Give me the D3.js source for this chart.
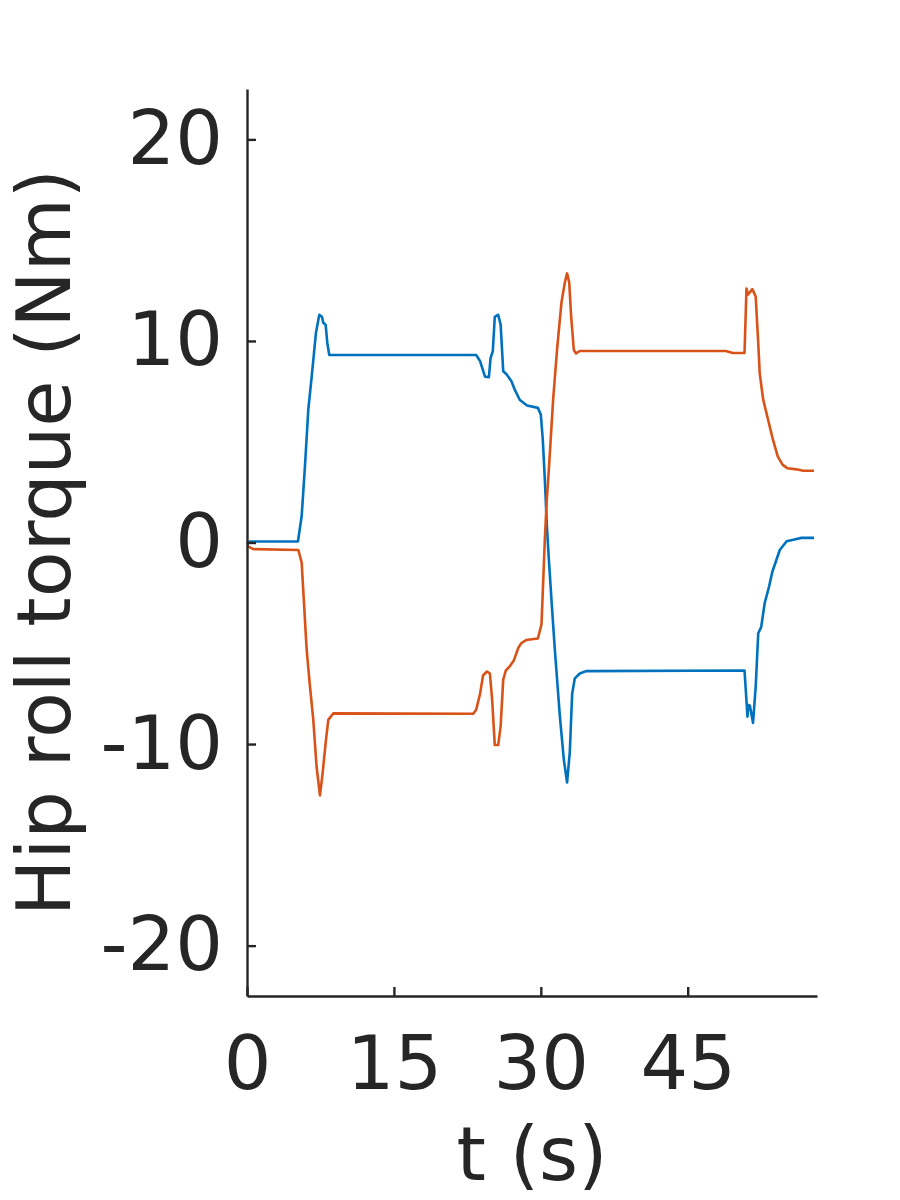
<!DOCTYPE html>
<html>
<head>
<meta charset="utf-8">
<script src="https://cdn.jsdelivr.net/npm/d3@7"></script>
<style>
  html, body { margin: 0; padding: 0; background: #fff; }
  svg { display: block; }
  text { font-family: "DejaVu Sans", sans-serif; fill: #262626; }
</style>
</head>
<body>
<svg id="chart" width="900" height="1200"></svg>
<script>
// ---- data ----
const xTicks = [0, 15, 30, 45];
const yTicks = [-20, -10, 0, 10, 20];
const xLabel = "t (s)";
const yLabel = "Hip roll torque (Nm)";

const tBlue = [0, 0.3, 5.2, 5.58, 5.92, 6.26, 6.6, 7.04, 7.38, 7.65, 7.79, 8.03, 8.2, 8.4,
  23.4, 23.8, 24.3, 24.7, 24.87, 25.1, 25.3, 25.65, 25.9, 26.16, 26.5, 27.0, 27.35, 27.86, 28.6, 29.7,
  30.0, 30.2, 30.41, 30.61, 30.82, 31.12, 31.43, 31.94, 32.35, 32.68, 32.96, 33.2, 33.47, 33.98, 34.66,
  50.8, 51.1, 51.2, 51.35, 51.67, 51.94, 52.2, 52.5, 52.86, 53.3, 53.64, 54.05, 54.4, 55.1, 55.9, 56.6, 57.9];
const vBlue = [-0.1, 0.05, 0.05, 1.3, 3.8, 6.6, 8.2, 10.4, 11.3, 11.2, 10.9, 10.8, 9.9, 9.3,
  9.3, 9.0, 8.23, 8.2, 9.15, 9.5, 11.2, 11.3, 10.8, 8.5, 8.35, 8.0, 7.57, 7.07, 6.8, 6.68,
  6.35, 5.11, 3.13, 0.9, -0.84, -3.08, -5.31, -8.59, -10.77, -11.91, -10.4, -7.5, -6.74, -6.5, -6.38,
  -6.35, -8.64, -8.06, -8.1, -8.95, -7.15, -4.5, -4.2, -3.0, -2.2, -1.45, -0.87, -0.37, 0.06, 0.15, 0.23, 0.23];

const tOrange = [0, 0.65, 5.24, 5.58, 5.8, 6.09, 6.43, 6.77, 7.1, 7.45, 7.72, 8.06, 8.3, 8.8,
  23.1, 23.4, 23.8, 24.1, 24.5, 24.8, 25.03, 25.3, 25.65, 25.9, 26.16, 26.43, 26.8, 27.24, 27.7, 28.0, 28.5, 29.7,
  30.07, 30.23, 30.41, 30.61, 30.82, 31.26, 31.66, 32.11, 32.45, 32.68, 32.9, 33.1, 33.37, 33.6, 33.98,
  48.9, 49.6, 50.8, 51.0, 51.15, 51.6, 51.94, 52.2, 52.35, 52.7, 53.2, 53.7, 54.2, 54.7, 55.2, 56.1, 56.8, 57.9];
const vOrange = [-0.17, -0.33, -0.37, -1.0, -2.85, -5.3, -7.15, -8.8, -11.1, -12.55, -11.45, -9.8, -8.8, -8.48,
  -8.5, -8.3, -7.5, -6.6, -6.4, -6.5, -7.8, -10.05, -10.05, -9.1, -6.8, -6.35, -6.16, -5.86, -5.23, -5.0, -4.84, -4.76,
  -4.07, -2.08, 0.15, 2.13, 3.62, 7.1, 9.58, 11.91, 12.9, 13.35, 12.9, 11.2, 9.55, 9.38, 9.5,
  9.5, 9.4, 9.4, 12.6, 12.3, 12.57, 12.2, 9.9, 8.4, 7.1, 6.1, 5.1, 4.26, 3.85, 3.68, 3.63, 3.56, 3.56];

const xDomain = [0, 58.2];
const yDomain = [-22.5, 22.5];

// ---- layout ----
const mLeft = 247, mRight = 817, mTop = 89, mBottom = 996;
const svg = d3.select("#chart");

const x = d3.scaleLinear().domain(xDomain).range([mLeft, mRight]);
const y = d3.scaleLinear().domain(yDomain).range([mBottom, mTop]);

const line = d3.line().x(d => x(d[0])).y(d => y(d[1]));

svg.append("path")
  .datum(tBlue.map((t, i) => [t, vBlue[i]]))
  .attr("d", line).attr("fill", "none")
  .attr("stroke", "#0072BD").attr("stroke-width", 2.6).attr("stroke-linejoin", "round");

svg.append("path")
  .datum(tOrange.map((t, i) => [t, vOrange[i]]))
  .attr("d", line).attr("fill", "none")
  .attr("stroke", "#D95319").attr("stroke-width", 2.6).attr("stroke-linejoin", "round");

// axes
const xAxis = d3.axisBottom(x).tickValues(xTicks).tickFormat(d3.format("d"))
  .tickSizeInner(-9).tickSizeOuter(0).tickPadding(40);
const yAxis = d3.axisLeft(y).tickValues(yTicks).tickFormat(d3.format("d"))
  .tickSizeInner(-9).tickSizeOuter(0).tickPadding(24);

const gx = svg.append("g").attr("transform", `translate(0,${mBottom})`).call(xAxis);
const gy = svg.append("g").attr("transform", `translate(${mLeft},0)`).call(yAxis);

[gx, gy].forEach(g => {
  g.select(".domain").attr("stroke", "#262626").attr("stroke-width", 2.4);
  g.selectAll(".tick line").attr("stroke", "#262626").attr("stroke-width", 2.4);
  g.selectAll(".tick text").attr("font-family", "DejaVu Sans").attr("font-size", 75).attr("fill", "#262626");
});
gy.selectAll(".tick text").text(d => d < 0 ? "-" + Math.abs(d) : d);

// labels
svg.append("text")
  .attr("x", (mLeft + mRight) / 2).attr("y", 1180)
  .attr("text-anchor", "middle").attr("font-size", 75)
  .text(xLabel);

svg.append("text")
  .attr("transform", `translate(70,${(mTop + mBottom) / 2}) rotate(-90)`)
  .attr("text-anchor", "middle").attr("font-size", 75)
  .text(yLabel);
</script>
</body>
</html>
